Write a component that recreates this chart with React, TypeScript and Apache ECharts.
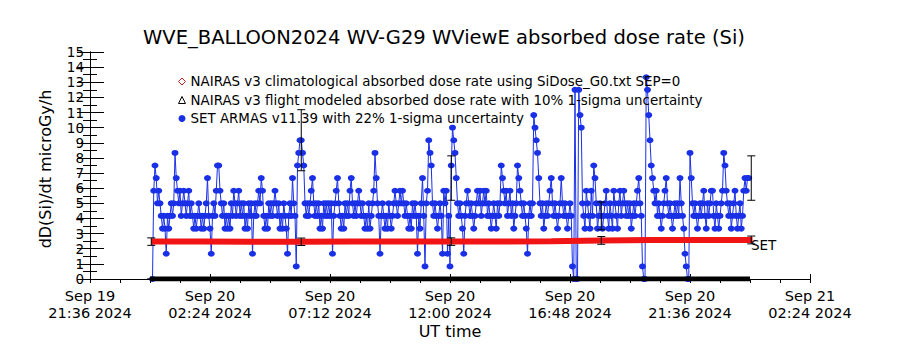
import React, { useEffect, useRef } from "react";
import * as echarts from "echarts";

// ---- axis ticks (hours since Sep 19 21:36 UT) ----
const xTickHours = [0, 4.8, 9.6, 14.4, 19.2, 24, 28.8];
const xTickLabels = [
  "Sep 19\n21:36 2024",
  "Sep 20\n02:24 2024",
  "Sep 20\n07:12 2024",
  "Sep 20\n12:00 2024",
  "Sep 20\n16:48 2024",
  "Sep 20\n21:36 2024",
  "Sep 21\n02:24 2024",
];

// ---- series names ----
const climoName = "NAIRAS v3 climatological absorbed dose rate using SiDose_G0.txt SEP=0";
const flightName = "NAIRAS v3 flight modeled absorbed dose rate with 10% 1-sigma uncertainty";
const armasName = "SET ARMAS v11.39 with 22% 1-sigma uncertainty";

// ---- NAIRAS climatological (microGy/h) ----
const climoHours = [2.45, 4.45, 6.45, 8.45, 10.45, 12.45, 14.45, 16.45, 18.45, 20.45, 22.45, 24.45, 26.5];
const climoValues = [2.47, 2.47, 2.46, 2.46, 2.47, 2.47, 2.47, 2.48, 2.5, 2.55, 2.57, 2.58, 2.58];

// ---- NAIRAS flight modeled (microGy/h) ----
const flightHours = [2.4, 4.4, 6.4, 8.4, 10.4, 12.4, 14.4, 16.4, 18.4, 20.4, 22.4, 24.4, 26.4];
const flightValues = [0, 0, 0, 0, 0, 0, 0, 0, 0, 0, 0, 0, 0];

// ---- SET ARMAS measurements, one every 3 minutes from Sep 20 00:06 UT ----
const armasStartHour = 2.5;
const armasStepHours = 0.05;
const armasValues = [
  0, 5.83, 7.5, 6.67, 5.0, 5.83, 5.0, 4.17, 3.33, 4.17, 3.33, 1.67, 4.17, 3.33, 4.17, 5.0, 4.17, 5.0, 8.33, 6.67,
  5.83, 5.0, 5.83, 4.17, 5.0, 5.83, 5.0, 4.17, 5.0, 5.83, 4.17, 5.0, 4.17, 3.33, 4.17, 3.33, 4.17, 5.0, 4.17, 3.33,
  4.17, 3.33, 4.17, 5.0, 6.67, 4.17, 3.33, 1.67, 4.17, 5.0, 4.17, 5.83, 7.5, 7.5, 5.83, 5.0, 4.17, 5.0, 3.33, 4.17,
  3.33, 4.17, 3.33, 5.0, 4.17, 5.83, 5.0, 4.17, 5.0, 5.83, 4.17, 5.0, 4.17, 5.0, 3.33, 4.17, 3.33, 5.0, 4.17, 5.0,
  1.67, 4.17, 5.0, 4.17, 5.0, 5.83, 5.0, 6.67, 5.83, 4.17, 3.33, 4.17, 3.33, 5.0, 4.17, 5.0, 4.17, 5.0, 5.83, 5.0,
  4.17, 5.0, 3.33, 4.17, 3.33, 5.0, 4.17, 3.33, 1.67, 4.17, 5.0, 4.17, 6.67, 5.0, 4.17, 0.83, 7.5, 8.33, 9.17, 9.17,
  8.33, 7.5, 5.0, 4.17, 5.0, 4.17, 5.0, 5.83, 6.67, 5.0, 4.17, 5.0, 4.17, 5.0, 3.33, 4.17, 3.33, 5.0, 4.17, 5.0,
  4.17, 5.0, 4.17, 5.0, 1.67, 4.17, 5.0, 5.83, 6.67, 5.0, 4.17, 3.33, 4.17, 3.33, 5.0, 4.17, 5.0, 4.17, 5.83, 6.67,
  5.0, 4.17, 5.0, 4.17, 5.0, 5.83, 5.0, 4.17, 5.0, 4.17, 3.33, 4.17, 3.33, 5.0, 3.33, 4.17, 5.0, 5.83, 8.33, 6.67,
  5.0, 4.17, 1.67, 4.17, 5.0, 4.17, 3.33, 4.17, 3.33, 5.0, 4.17, 3.33, 4.17, 5.0, 5.83, 5.0, 4.17, 5.0, 5.83, 5.0,
  5.83, 5.0, 4.17, 5.0, 4.17, 3.33, 4.17, 3.33, 5.0, 4.17, 5.0, 4.17, 1.67, 4.17, 3.33, 5.0, 6.67, 4.17, 0.83, 5.0,
  5.83, 9.17, 8.33, 7.5, 5.0, 4.17, 5.0, 4.17, 3.33, 4.17, 5.0, 4.17, 1.67, 5.83, 5.0, 5.83, 1.67, 4.17, 0.83, 7.5,
  10.0, 9.17, 8.33, 6.67, 5.0, 4.17, 5.0, 4.17, 3.33, 1.67, 4.17, 5.0, 5.83, 5.0, 4.17, 5.0, 4.17, 3.33, 4.17, 5.0,
  5.83, 5.0, 5.83, 4.17, 5.0, 5.83, 5.0, 5.83, 4.17, 5.0, 4.17, 3.33, 4.17, 5.0, 4.17, 3.33, 5.0, 4.17, 5.0, 7.5,
  6.67, 5.83, 5.0, 5.83, 4.17, 5.0, 5.83, 4.17, 5.0, 3.33, 4.17, 5.0, 7.5, 6.67, 5.83, 5.0, 4.17, 5.0, 4.17, 3.33,
  1.67, 4.17, 5.0, 4.17, 5.0, 10.83, 10.0, 9.17, 8.33, 6.67, 5.0, 4.17, 5.0, 3.33, 4.17, 5.0, 4.17, 5.0, 5.83, 6.67,
  5.0, 4.17, 5.0, 4.17, 3.33, 4.17, 5.0, 6.67, 5.0, 4.17, 5.0, 4.17, 3.33, 4.17, 5.0, 4.17, 0.83, 0, 12.5, 0,
  0, 12.5, 10.83, 10.0, 5.0, 4.17, 3.33, 5.83, 5.0, 4.17, 3.33, 5.83, 4.17, 7.5, 6.67, 5.0, 3.33, 4.17, 5.0, 4.17,
  3.33, 4.17, 5.0, 5.83, 4.17, 3.33, 5.0, 4.17, 3.33, 5.83, 5.0, 4.17, 3.33, 5.0, 5.83, 4.17, 5.0, 5.83, 5.0, 4.17,
  5.0, 4.17, 5.0, 3.33, 4.17, 5.0, 4.17, 5.0, 5.83, 6.67, 5.0, 4.17, 0.83, 0, 0, 13.33, 12.5, 10.83, 9.17, 7.5,
  6.67, 5.83, 5.0, 5.83, 4.17, 5.0, 4.17, 3.33, 4.17, 5.0, 5.83, 6.67, 5.0, 4.17, 5.0, 4.17, 3.33, 4.17, 5.0, 4.17,
  5.0, 4.17, 6.67, 5.0, 4.17, 3.33, 1.67, 0.83, 0, 0, 8.33, 6.67, 5.0, 4.17, 5.0, 4.17, 3.33, 4.17, 5.0, 4.17,
  5.0, 5.83, 4.17, 3.33, 5.0, 4.17, 5.0, 5.83, 5.83, 4.17, 3.33, 5.0, 4.17, 3.33, 4.17, 5.0, 5.83, 8.33, 7.5, 5.83,
  5.0, 4.17, 5.0, 3.33, 4.17, 5.0, 5.83, 4.17, 3.33, 4.17, 5.0, 3.33, 4.17, 5.83, 6.67, 5.83, 6.67, 6.67,
];

// ---- error bars ----
const errHours = [2.45, 8.45, 14.45, 20.45, 26.45];
const climoErrCenters = [2.47, 2.46, 2.47, 2.55, 2.58];
const armasErrCenters = [0, 9.17, 6.67, 4.17, 6.67];
const climoUncertainty = 0.1;
const armasUncertainty = 0.22;

const BLUE = "#1a30e6";
const RED = "#f01414";
const FONT = "DejaVu Sans";

function errorBarSeries(name: string, centers: number[], frac: number) {
  return {
    name,
    type: "custom",
    xAxisIndex: 0,
    yAxisIndex: 0,
    z: 6,
    encode: { x: 0, y: [1, 2] },
    data: errHours.map((t, i) => [t, centers[i] * (1 - frac), centers[i] * (1 + frac)]),
    renderItem: (params: any, api: any) => {
      const t = api.value(0);
      const a = api.coord([t, api.value(1)]);
      const b = api.coord([t, api.value(2)]);
      const w = 4;
      const st = { stroke: "#000", lineWidth: 1 };
      return {
        type: "group",
        children: [
          { type: "line", shape: { x1: a[0], y1: a[1], x2: b[0], y2: b[1] }, style: st },
          { type: "line", shape: { x1: a[0] - w, y1: a[1], x2: a[0] + w, y2: a[1] }, style: st },
          { type: "line", shape: { x1: b[0] - w, y1: b[1], x2: b[0] + w, y2: b[1] }, style: st },
        ],
      };
    },
  };
}

export default function App() {
  const ref = useRef<HTMLDivElement>(null);

  useEffect(() => {
    if (!ref.current) return;
    const chart = echarts.init(ref.current, null, { renderer: "svg" });

    const axisLine = { show: true, lineStyle: { color: "#000", width: 1 } };

    const option: any = {
      animation: false,
      backgroundColor: "#fff",
      grid: { left: 90, right: 90, top: 52, bottom: 71, containLabel: false },
      graphic: [
        {
          type: "text",
          x: 444,
          y: 37,
          style: {
            text: "WVE_BALLOON2024 WV-G29 WViewE absorbed dose rate (Si)",
            fill: "#000",
            fontFamily: FONT,
            fontSize: 19.5,
            textAlign: "center",
            textVerticalAlign: "middle",
          },
        },
        {
          type: "text",
          x: 45,
          y: 169,
          rotation: Math.PI / 2,
          style: {
            text: "dD(Si)/dt microGy/h",
            fill: "#000",
            fontFamily: FONT,
            fontSize: 16,
            textAlign: "center",
            textVerticalAlign: "middle",
          },
        },
        {
          type: "text",
          x: 450,
          y: 331,
          style: {
            text: "UT time",
            fill: "#000",
            fontFamily: FONT,
            fontSize: 16,
            textAlign: "center",
            textVerticalAlign: "middle",
          },
        },
        {
          type: "text",
          x: 751,
          y: 245,
          z: 10,
          style: {
            text: "SET",
            fill: "#000",
            fontFamily: FONT,
            fontSize: 13.5,
            textAlign: "left",
            textVerticalAlign: "middle",
          },
        },
      ],
      legend: {
        left: 173,
        top: 70,
        orient: "vertical",
        itemGap: 5.5,
        itemWidth: 7,
        itemHeight: 7,
        selectedMode: false,
        textStyle: { fontFamily: FONT, fontSize: 13.4, color: "#000" },
        data: [
          { name: climoName, icon: "diamond", itemStyle: { color: "#fff", borderColor: "#d02020", borderWidth: 1 } },
          { name: flightName, icon: "triangle", itemStyle: { color: "#fff", borderColor: "#000", borderWidth: 1 } },
          { name: armasName, icon: "circle", itemStyle: { color: BLUE } },
        ],
      },
      xAxis: [
        {
          type: "value",
          position: "bottom",
          min: 0,
          max: 28.8,
          interval: 4.8,
          axisLine,
          axisTick: { show: true, inside: true, length: 5, lineStyle: { color: "#000" } },
          splitLine: { show: false },
          axisLabel: {
            color: "#000",
            fontFamily: FONT,
            fontSize: 14.5,
            lineHeight: 17,
            margin: 8,
            formatter: (v: number) => {
              const i = xTickHours.findIndex((h) => Math.abs(h - v) < 1e-6);
              return i >= 0 ? xTickLabels[i] : "";
            },
          },
        },
        {
          type: "value",
          position: "top",
          min: 0,
          max: 28.8,
          interval: 1.2,
          axisLine,
          axisTick: { show: true, inside: true, length: 4, lineStyle: { color: "#000" } },
          splitLine: { show: false },
          axisLabel: { show: false },
        },
      ],
      yAxis: [
        {
          type: "value",
          position: "left",
          min: 0,
          max: 15,
          interval: 1,
          axisLine,
          axisTick: { show: true, inside: true, length: 14, lineStyle: { color: "#000" } },
          minorTick: { show: true, splitNumber: 2, length: 7, lineStyle: { color: "#000" } },
          splitLine: { show: false },
          minorSplitLine: { show: false },
          axisLabel: {
            color: "#000",
            fontFamily: FONT,
            fontSize: 13.5,
            margin: 6,
            showMinLabel: true,
            showMaxLabel: true,
          },
        },
        {
          type: "value",
          position: "right",
          min: 0,
          max: 15,
          interval: 1,
          axisLine,
          axisTick: { show: true, inside: true, length: 13, lineStyle: { color: "#000" } },
          minorTick: { show: true, splitNumber: 2, length: 7, lineStyle: { color: "#000" } },
          splitLine: { show: false },
          minorSplitLine: { show: false },
          axisLabel: { show: false },
        },
      ],
      series: [
        {
          name: armasName,
          type: "line",
          xAxisIndex: 0,
          yAxisIndex: 0,
          z: 2,
          data: armasValues.map((v, i) => [armasStartHour + i * armasStepHours, v]),
          symbol: "circle",
          symbolSize: [7, 6],
          showSymbol: true,
          showAllSymbol: true,
          lineStyle: { color: BLUE, width: 1 },
          itemStyle: { color: BLUE },
        },
        {
          name: climoName,
          type: "line",
          xAxisIndex: 0,
          yAxisIndex: 0,
          z: 3,
          data: climoHours.map((t, i) => [t, climoValues[i]]),
          symbol: "none",
          lineStyle: { color: RED, width: 6 },
          itemStyle: { color: RED },
        },
        {
          name: flightName,
          type: "line",
          xAxisIndex: 0,
          yAxisIndex: 0,
          z: 4,
          data: flightHours.map((t, i) => [t, flightValues[i]]),
          symbol: "none",
          lineStyle: { color: "#000", width: 5 },
          itemStyle: { color: "#000" },
        },
        errorBarSeries("climo-err", climoErrCenters, climoUncertainty),
        errorBarSeries("armas-err", armasErrCenters, armasUncertainty),
      ],
    };

    chart.setOption(option);
    return () => chart.dispose();
  }, []);

  return (
    <div
      ref={ref}
      style={{ position: "fixed", left: 0, top: 0, width: 900, height: 350, background: "#fff" }}
    />
  );
}
